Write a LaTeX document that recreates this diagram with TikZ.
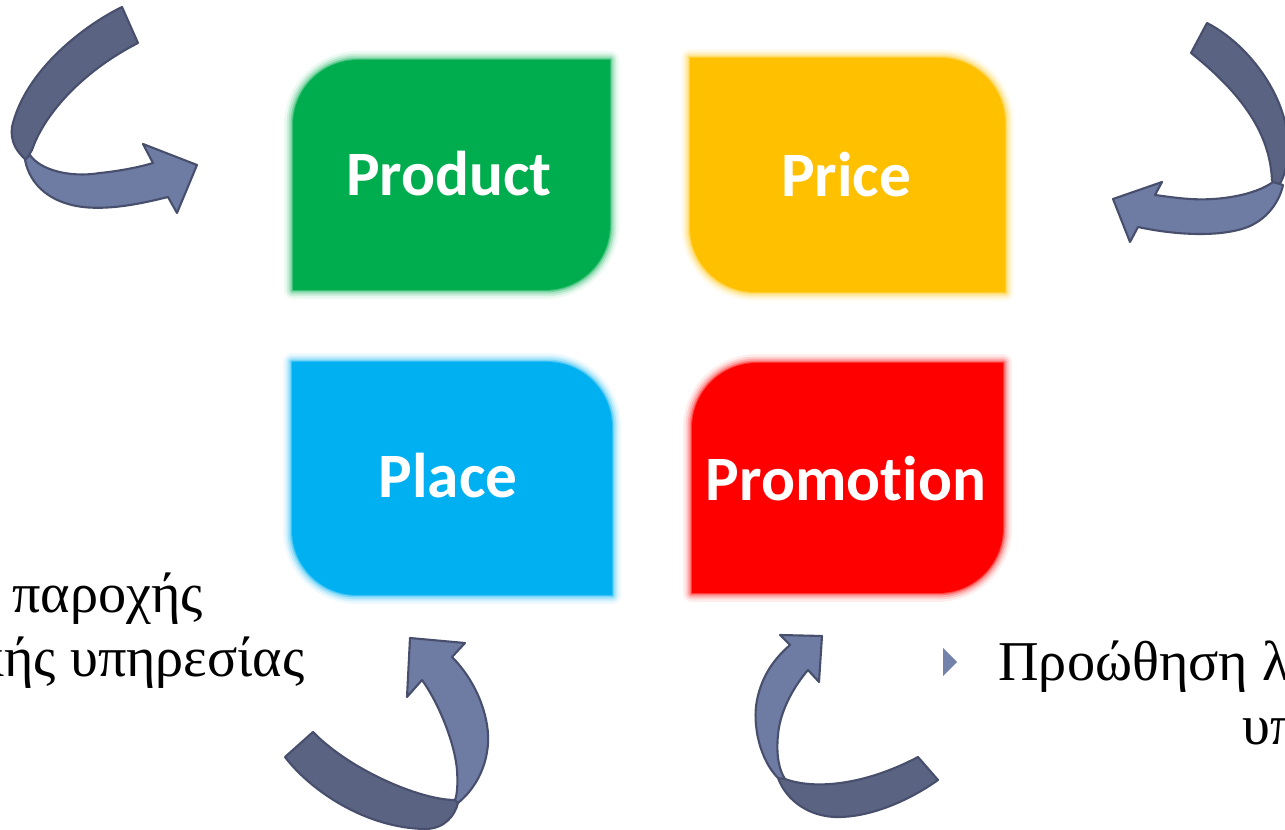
\documentclass[tikz,border=0pt]{standalone}
\usepackage{fontspec}
\setmainfont{Liberation Serif}
\newfontfamily\boxfont{Carlito}[Ligatures=NoCommon]

\definecolor{prodgreen}{HTML}{00AD4E}
\definecolor{priceorange}{HTML}{FFC000}
\definecolor{placeblue}{HTML}{00B0F0}
\definecolor{promored}{HTML}{FF0000}
\definecolor{arrowdark}{HTML}{5A6381}
\definecolor{arrowlight}{HTML}{6E7BA3}
\definecolor{arrowline}{HTML}{474F6C}
\definecolor{bulletcol}{HTML}{7282AA}

\tikzset{
  boxlabel/.style={text=white, font=\boxfont\bfseries\fontsize{36}{40}\selectfont, anchor=base, inner sep=0pt},
  greek/.style={font=\fontsize{32}{38}\selectfont, inner sep=0pt},
  darkpart/.style={fill=arrowdark, draw=arrowline, line width=1.2pt, line join=round},
  lightpart/.style={fill=arrowlight, draw=arrowline, line width=1.2pt, line join=round},
}

% leaf boxes: A = top left and bottom right rounded, B = top right and bottom left rounded
\def\leafApath#1#2#3#4{({#1},{#4}) -- ({#1},{#2+65}) .. controls ({#1},{#2+29}) and ({#1+29},{#2}) .. ({#1+65},{#2}) -- ({#3},{#2}) -- ({#3},{#4-65}) .. controls ({#3},{#4-29}) and ({#3-29},{#4}) .. ({#3-65},{#4}) -- cycle}
\def\leafBpath#1#2#3#4{({#1},{#2}) -- ({#3-65},{#2}) .. controls ({#3-29},{#2}) and ({#3},{#2+29}) .. ({#3},{#2+65}) -- ({#3},{#4}) -- ({#1+65},{#4}) .. controls ({#1+29},{#4}) and ({#1},{#4-29}) .. ({#1},{#4-65}) -- cycle}
\newcommand{\leafA}[5]{%
  \foreach \w/\o in {18/0.07,13/0.12,9/0.18,5/0.3,2/0.5}
    \draw[#1, opacity=\o, line width=\w*0.5669pt, line join=round] \leafApath{#2}{#3}{#4}{#5};
  \fill[#1] \leafApath{#2}{#3}{#4}{#5};}
\newcommand{\leafB}[5]{%
  \foreach \w/\o in {18/0.07,13/0.12,9/0.18,5/0.3,2/0.5}
    \draw[#1, opacity=\o, line width=\w*0.5669pt, line join=round] \leafBpath{#2}{#3}{#4}{#5};
  \fill[#1] \leafBpath{#2}{#3}{#4}{#5};}

\begin{document}
\begin{tikzpicture}[x=0.02cm, y=-0.02cm]
    \path[use as bounding box, clip] (0,0) rectangle (1285,830);

    % the four boxes
    \leafA{prodgreen}{293}{60}{610}{290}
    \leafB{priceorange}{690}{58}{1005}{292}
    \leafB{placeblue}{292}{362}{612}{595}
    \leafA{promored}{692}{363}{1003}{593}

    \node[boxlabel](product) at (449,196) {Product};
    \node[boxlabel](price) at (846,197) {Price};
    \node[boxlabel](place) at (448,498) {Place};
    \node[boxlabel](promotion) at (846,501) {Promotion};

    % curved arrows
    \draw[darkpart] (122,7) .. controls (85,25) and (25,70) .. (12,127) .. controls (10,142) and (17,152) .. (26,160) -- (32,150) .. controls (45,112) and (85,70) .. (138,43) -- cycle;
    \draw[lightpart] (30,155) .. controls (40,170) and (70,178) .. (100,173) .. controls (120,171) and (140,167) .. (153,163) -- (143,144) -- (197,165) -- (177,213) -- (168,197) .. controls (140,204) and (110,210) .. (83,207) .. controls (50,203) and (30,185) .. (25,160) -- cycle;

    \draw[darkpart] (1207,23) .. controls (1250,45) and (1290,100) .. (1288,150) .. controls (1287,170) and (1283,180) .. (1276,190) -- (1272,180) .. controls (1270,140) and (1250,100) .. (1191,53) -- cycle;
    \draw[lightpart] (1273,182) .. controls (1255,195) and (1220,201) .. (1190,199) .. controls (1175,198) and (1163,196) .. (1155,195) -- (1162,182) -- (1113,199) -- (1130,242) -- (1138,227) .. controls (1170,234) and (1215,238) .. (1245,228) .. controls (1268,220) and (1280,200) .. (1283,185) -- cycle;

    \draw[darkpart] (285,757) .. controls (310,790) and (365,828) .. (425,829) .. controls (445,829) and (455,815) .. (458,803) -- (455,800) .. controls (420,800) and (350,770) .. (313,732) -- cycle;
    \draw[lightpart] (458,803) .. controls (480,785) and (492,755) .. (487,725) .. controls (483,700) and (470,675) .. (452,657) -- (465,643) -- (410,638) -- (407,697) -- (422,680) .. controls (440,705) and (455,745) .. (457,770) .. controls (458,785) and (457,795) .. (455,800) -- cycle;

    \draw[darkpart] (938,780) .. controls (910,800) and (870,818) .. (835,817) .. controls (810,816) and (787,802) .. (778,778) -- (785,779) .. controls (815,790) and (865,785) .. (918,757) -- cycle;
    \draw[lightpart] (778,778) .. controls (760,760) and (752,725) .. (757,700) .. controls (762,675) and (775,658) .. (790,645) -- (780,635) -- (822,636) -- (819,682) -- (808,670) .. controls (795,685) and (780,710) .. (778,735) .. controls (776,755) and (779,770) .. (785,779) -- cycle;

    % text at the sides
    \node[greek, anchor=base west](leftA) at (12,613) {παροχής};
    \node[greek, anchor=base east](leftB) at (305,677) {κής υπηρεσίας};
    \fill[bulletcol] (943,648) -- (957,662) -- (943,676) -- cycle;
    \node[greek, anchor=base west](rightA) at (998,681) {Προώθηση λ};
    \node[greek, anchor=base west](rightB) at (1242,745) {υπ};
\end{tikzpicture}
\end{document}
